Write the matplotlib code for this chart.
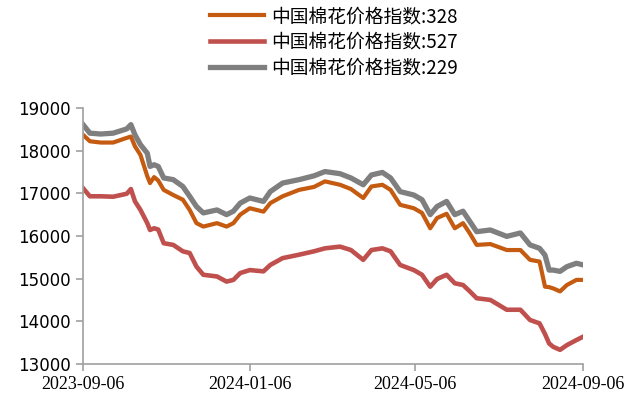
import pandas as pd
import matplotlib
matplotlib.use('Agg')
from matplotlib import pyplot as plt
import matplotlib.dates as mdates

plt.rcParams['font.family'] = ['Noto Sans CJK SC', 'DejaVu Sans']

dates = ['2023-09-06', '2023-09-11', '2023-09-19', '2023-09-28', '2023-10-08', '2023-10-11',
         '2023-10-14', '2023-10-18', '2023-10-23', '2023-10-25', '2023-10-28', '2023-10-31',
         '2023-11-04', '2023-11-11', '2023-11-18', '2023-11-23', '2023-11-28', '2023-12-03',
         '2023-12-13', '2023-12-20', '2023-12-25', '2023-12-30', '2024-01-06', '2024-01-16',
         '2024-01-21', '2024-01-30', '2024-02-11', '2024-02-22', '2024-03-01', '2024-03-12',
         '2024-03-20', '2024-03-29', '2024-04-04', '2024-04-12', '2024-04-18', '2024-04-25',
         '2024-05-05', '2024-05-11', '2024-05-17', '2024-05-22', '2024-05-29', '2024-06-04',
         '2024-06-10', '2024-06-15', '2024-06-20', '2024-06-30', '2024-07-12', '2024-07-22',
         '2024-07-29', '2024-08-05', '2024-08-09', '2024-08-12', '2024-08-15', '2024-08-20',
         '2024-08-25', '2024-09-01', '2024-09-06']

idx_328 = [18370, 18220, 18190, 18190, 18300, 18330, 18100, 17900, 17400, 17240, 17380, 17300,
           17080, 16960, 16850, 16610, 16300, 16220, 16300, 16220, 16300, 16500, 16650, 16570,
           16770, 16930, 17080, 17150, 17280, 17200, 17100, 16890, 17160, 17200, 17080, 16730,
           16650, 16540, 16180, 16420, 16520, 16180, 16300, 16060, 15790, 15810, 15670, 15670,
           15440, 15400, 14810, 14800, 14770, 14700, 14850, 14970, 14970]

idx_527 = [17120, 16930, 16930, 16920, 16990, 17100, 16810, 16610, 16300, 16140, 16180, 16150,
           15830, 15790, 15640, 15600, 15280, 15090, 15050, 14930, 14970, 15130, 15200, 15170,
           15320, 15480, 15560, 15640, 15710, 15750, 15670, 15440, 15670, 15710, 15640, 15320,
           15200, 15090, 14810, 14990, 15090, 14890, 14850, 14700, 14540, 14500, 14270, 14270,
           14030, 13950, 13700, 13480, 13400, 13330, 13440, 13560, 13640]

idx_229 = [18610, 18410, 18390, 18410, 18510, 18610, 18370, 18140, 17940, 17630, 17670, 17630,
           17360, 17320, 17160, 16930, 16690, 16540, 16610, 16500, 16580, 16770, 16890, 16810,
           17040, 17240, 17320, 17410, 17510, 17460, 17360, 17200, 17430, 17490, 17360, 17040,
           16960, 16850, 16500, 16690, 16810, 16500, 16580, 16340, 16100, 16140, 15990, 16070,
           15790, 15710, 15550, 15200, 15200, 15170, 15280, 15360, 15320]

labels = ['中国棉花价格指数:328', '中国棉花价格指数:527', '中国棉花价格指数:229']
tick_dates = ['2023-09-06', '2024-01-06', '2024-05-06', '2024-09-06']

x = pd.to_datetime(dates)

fig = plt.figure(figsize=(6.34, 4.03), dpi=100)
ax = fig.add_axes([0.131, 0.097, 0.789, 0.635])

ax.plot(x, idx_328, color='#C55A11', lw=3.0, label=labels[0])
ax.plot(x, idx_527, color='#C0504D', lw=3.3, label=labels[1])
ax.plot(x, idx_229, color='#7F7F7F', lw=3.8, label=labels[2])

ax.set_ylim(13000, 19000)
ax.set_yticks(range(13000, 19001, 1000))
ax.set_xlim(pd.Timestamp(tick_dates[0]), pd.Timestamp(tick_dates[-1]))
ax.set_xticks(pd.to_datetime(tick_dates))
ax.xaxis.set_major_formatter(mdates.DateFormatter('%Y-%m-%d'))

for s in ['top', 'right']:
    ax.spines[s].set_visible(False)
for s in ['left', 'bottom']:
    ax.spines[s].set_color('#A0A0A0')
    ax.spines[s].set_linewidth(1.2)
ax.tick_params(direction='out', color='#A0A0A0', length=5, width=1.2)
for t in ax.get_yticklabels():
    t.set_fontfamily('DejaVu Sans')
    t.set_fontsize(12)
for t in ax.get_xticklabels():
    t.set_fontfamily('Liberation Serif')
    t.set_fontsize(13)

fig.legend(loc='upper left', bbox_to_anchor=(0.331, 0.985), frameon=False,
           prop={'family': ['Noto Sans CJK SC', 'DejaVu Sans'], 'size': 13.5},
           handlelength=2.9, handletextpad=0.35, labelspacing=0.25,
           borderpad=0, borderaxespad=0)

fig.savefig('out.png', dpi=100)
